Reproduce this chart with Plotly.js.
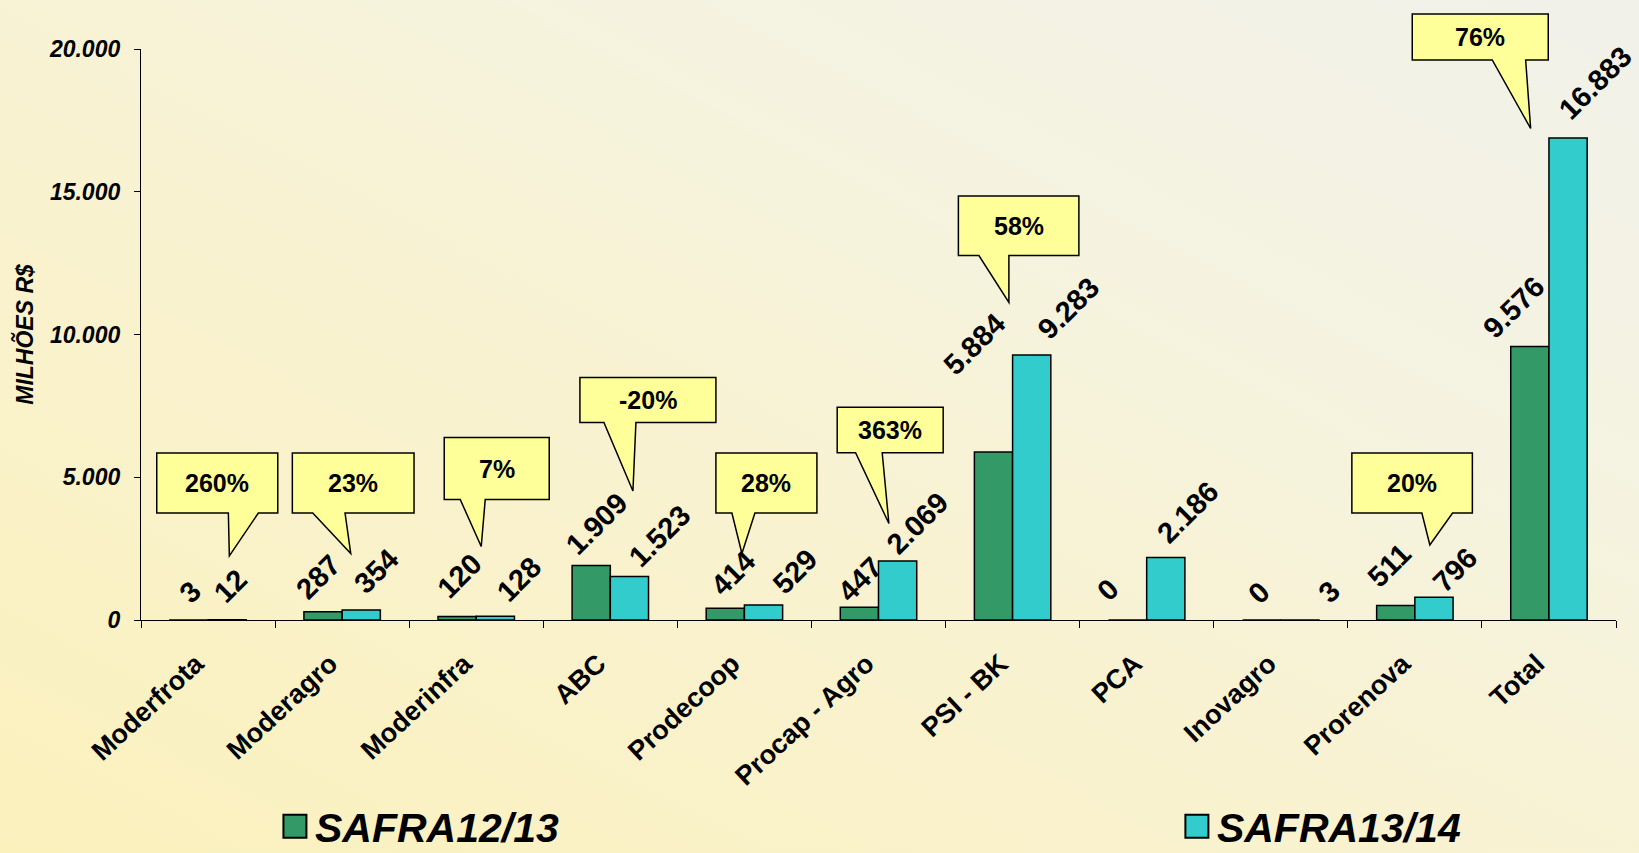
<!DOCTYPE html>
<html>
<head>
<meta charset="utf-8">
<script src="https://cdn.plot.ly/plotly-3.0.1.min.js"></script>
<style>
  html, body { margin: 0; padding: 0; }
  body {
    width: 1639px; height: 853px; overflow: hidden;
    background: linear-gradient(to top right, #FBF1BD 0%, #F9F2CF 40%, #F5F3E0 70%, #F1F1EA 100%);
  }
  #chart { width: 1639px; height: 853px; }
</style>
</head>
<body>
<div id="chart"></div>
<script>
// ---------- data ----------
const categories = ['Moderfrota', 'Moderagro', 'Moderinfra', 'ABC', 'Prodecoop', 'Procap - Agro', 'PSI - BK', 'PCA', 'Inovagro', 'Prorenova', 'Total'];
const safra1213 = [3, 287, 120, 1909, 414, 447, 5884, 0, 0, 511, 9576];
const safra1314 = [12, 354, 128, 1523, 529, 2069, 9283, 2186, 3, 796, 16883];
const seriesNames = ['SAFRA12/13', 'SAFRA13/14'];

const calloutCats = ['Moderfrota', 'Moderagro', 'Moderinfra', 'ABC', 'Prodecoop', 'Procap - Agro', 'PSI - BK', 'Prorenova', 'Total'];
const calloutText = ['260%', '23%', '7%', '-20%', '28%', '363%', '58%', '20%', '76%'];

// ---------- layout / styling (positions, not data) ----------
const W = 1639, H = 853;
const M = { l: 141, r: 23, t: 49, b: 233 };
const BARGAP = 0.43;
const FONT = 'Liberation Sans, Arial, sans-serif';
const GREEN = '#339966', CYAN = '#33CCCC';

// pixel geometry of each callout relative to (category centre, baseline), y up:
// [boxX0, boxX1, boxY0, boxY1, tailBaseLeft, tailBaseRight, tipX, tipY]
const calloutGeom = [
  [-51.3, 69.7, 107, 167, 20.3, 50.3, 21.3, 64],
  [-49.8, 71.9, 107, 167, -29.4, 2.9, 8.6, 66.5],
  [-32, 73, 120.5, 182.5, -16, 9, 5, 73.5],
  [-30.4, 105.6, 197.5, 242.5, -6.4, 25.6, 22.6, 129],
  [-28.5, 72.5, 107, 167, -12.5, 10.5, -2.5, 66.5],
  [-41.3, 64.7, 167.2, 212.8, -22.9, 3.7, 10.4, 96.5],
  [-54.2, 66.3, 364.5, 424, -33.7, -3.7, -3.7, 317.5],
  [-63, 57.5, 107, 167, 7, 37.7, 15, 75],
  [-136.7, -0.7, 560, 606, -56.7, -23.3, -18.3, 491.5]
];

// value-label nudges [dx, dy] from (bar centre, bar top) to label centre, px (dy up)
const nudge1213 = [[1,28],[-5,35],[2,41],[5,42],[8,35],[1,28],[-19,108],[-20,30],[-3,27],[-6,40],[-16,40]];
const nudge1314 = [[3,34],[15,39],[24,37],[30,41],[31,33],[20,38],[37,47],[22,46],[29,28],[21,27],[27,55]];

const plotW = W - M.l - M.r;
const catW = plotW / categories.length;
const barOff = catW * (1 - BARGAP) / 4;

const traces = [
  {
    type: 'bar', name: seriesNames[0], x: categories, y: safra1213, legend: 'legend',
    marker: { color: GREEN, line: { color: '#000', width: 1.5 } },
    hoverinfo: 'x+y'
  },
  {
    type: 'bar', name: seriesNames[1], x: categories, y: safra1314, legend: 'legend2',
    marker: { color: CYAN, line: { color: '#000', width: 1.5 } },
    hoverinfo: 'x+y'
  }
];

function fmtNum(v) {
  return Math.round(v).toString().replace(/\B(?=(\d{3})+(?!\d))/g, '.');
}

const annotations = [];
[[safra1213, nudge1213, -barOff], [safra1314, nudge1314, barOff]].forEach(([vals, nud, off]) => {
  vals.forEach((v, i) => {
    annotations.push({
      x: categories[i], y: v, xref: 'x', yref: 'y',
      text: fmtNum(v), showarrow: false, textangle: -45,
      xanchor: 'center', yanchor: 'middle',
      xshift: off + nud[i][0], yshift: nud[i][1],
      font: { family: FONT, size: 29, color: '#000', weight: 'bold' }
    });
  });
});

const shapes = [];
calloutCats.forEach((c, k) => {
  const [x0, x1, y0, y1, bl, br, tx, ty] = calloutGeom[k];
  shapes.push({
    type: 'path', layer: 'above',
    xref: 'x', xsizemode: 'pixel', xanchor: c,
    yref: 'paper', ysizemode: 'pixel', yanchor: 0,
    path: `M ${x0} ${y1} L ${x1} ${y1} L ${x1} ${y0} L ${br} ${y0} L ${tx} ${ty} L ${bl} ${y0} L ${x0} ${y0} Z`,
    fillcolor: '#FFFF99', line: { color: '#000', width: 1.5 }
  });
  annotations.push({
    x: c, xref: 'x', y: 0, yref: 'paper',
    xshift: (x0 + x1) / 2, yshift: (y0 + y1) / 2,
    xanchor: 'center', yanchor: 'middle', showarrow: false,
    text: calloutText[k],
    font: { family: FONT, size: 25, color: '#000', weight: 'bold' }
  });
});

const legendFont = { family: FONT, size: 41, color: '#000', weight: 'bold', style: 'italic' };

const layout = {
  width: W, height: H,
  margin: { l: M.l, r: M.r, t: M.t, b: M.b, autoexpand: false },
  paper_bgcolor: 'rgba(0,0,0,0)', plot_bgcolor: 'rgba(0,0,0,0)',
  separators: ',.',
  barmode: 'group', bargap: BARGAP, bargroupgap: 0,
  font: { family: FONT, color: '#000' },
  showlegend: true,
  legend: {
    orientation: 'h', x: 0.0908, xanchor: 'left', y: -0.362, yanchor: 'middle',
    font: legendFont, bgcolor: 'rgba(0,0,0,0)', borderwidth: 0
  },
  legend2: {
    orientation: 'h', x: 0.7023, xanchor: 'left', y: -0.362, yanchor: 'middle',
    font: legendFont, bgcolor: 'rgba(0,0,0,0)', borderwidth: 0
  },
  xaxis: {
    type: 'category', range: [-0.5, categories.length - 0.5], autorange: false,
    tickangle: -43, tickson: 'boundaries',
    ticks: 'outside', ticklen: 7, tickcolor: '#000', tickwidth: 1,
    showline: true, linecolor: '#000', linewidth: 1.3, showgrid: false,
    ticklabelstandoff: 16, ticklabelshift: -12,
    tickfont: { family: FONT, size: 27, color: '#000', weight: 'bold' }
  },
  yaxis: {
    range: [0, 20000], autorange: false, dtick: 5000, tickformat: ',.0f',
    ticks: 'outside', ticklen: 6, tickcolor: '#000', tickwidth: 1,
    showline: true, linecolor: '#000', linewidth: 1.3,
    showgrid: false, zeroline: false,
    ticklabelstandoff: 9,
    tickfont: { family: FONT, size: 23, color: '#000', weight: 'bold', style: 'italic' },
    title: { text: 'MILHÕES R$', standoff: 8,
             font: { family: FONT, size: 23, color: '#000', weight: 'bold', style: 'italic' } }
  },
  annotations: annotations,
  shapes: shapes
};

function fixLegendKeys(gd) {
  gd.querySelectorAll('.legendpoints path').forEach(p => {
    p.setAttribute('d', 'M11.5,11.5H-11.5V-11.5H11.5Z');
    p.style.strokeWidth = '2px';
  });
}

Plotly.newPlot('chart', traces, layout, { displayModeBar: false }).then(gd => {
  fixLegendKeys(gd);
  gd.on('plotly_afterplot', () => fixLegendKeys(gd));
});
</script>
</body>
</html>
